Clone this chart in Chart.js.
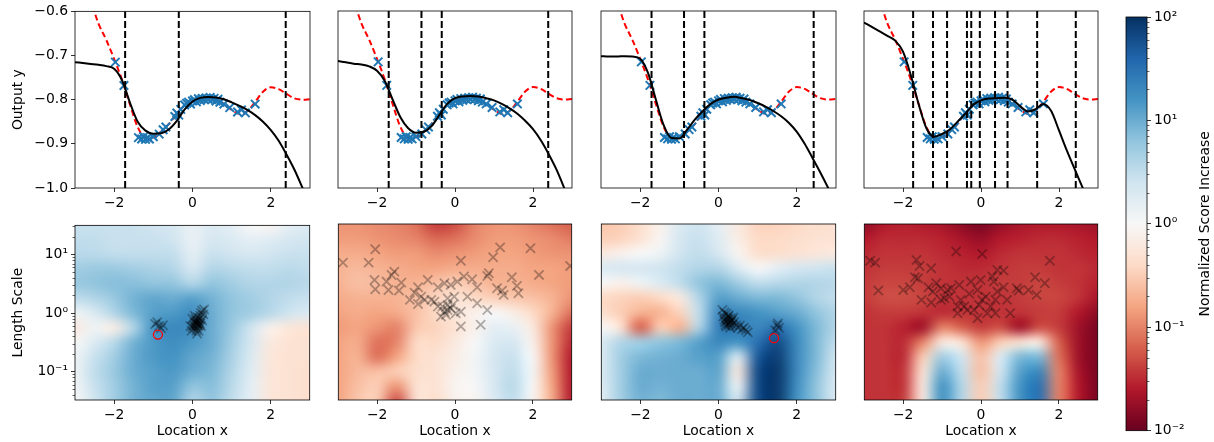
<!DOCTYPE html>
<html>
<head>
<meta charset="utf-8">
<script src="https://cdn.jsdelivr.net/npm/chart.js@4.4.0/dist/chart.umd.min.js"></script>
<style>
  html, body { margin: 0; padding: 0; background: #fff; }
  #fig { position: relative; width: 1214px; height: 442px; overflow: hidden; background: #fff; }
  #fig canvas { position: absolute; }
</style>
</head>
<body>
<div id="fig"></div>
<script>
// ============================================================
// DATA
// ============================================================
const xTicks = [-2, 0, 2];
const yTicksTop = [-1.0, -0.9, -0.8, -0.7, -0.6];
const yLimTop = [-1.0, -0.6];
const lsTicks = [0.1, 1, 10];
const lsLim = [0.033, 31.3];
const cbTicks = [0.01, 0.1, 1, 10, 100];

// x grid for the curves
const gridX = [-3.0, -2.8, -2.6, -2.4, -2.2, -2.0, -1.8, -1.6, -1.4, -1.2, -1.0, -0.8, -0.6, -0.4, -0.2,
  0.0, 0.2, 0.4, 0.6, 0.8, 1.0, 1.2, 1.4, 1.6, 1.8, 2.0, 2.2, 2.4, 2.6, 2.8, 3.0];
// true function (red dashed)
const trueY = [-0.49, -0.53, -0.575, -0.628, -0.665, -0.708, -0.755, -0.81, -0.862, -0.886, -0.885, -0.872, -0.855, -0.831, -0.812,
  -0.803, -0.799, -0.797, -0.800, -0.810, -0.823, -0.832, -0.826, -0.805, -0.782, -0.772, -0.776, -0.787, -0.797, -0.800, -0.799];
// model mean (black), one per panel
const mean1 = [-0.715, -0.717, -0.719, -0.721, -0.724, -0.730, -0.756, -0.806, -0.850, -0.870, -0.877, -0.876, -0.867, -0.848, -0.822,
  -0.804, -0.796, -0.794, -0.795, -0.799, -0.806, -0.814, -0.823, -0.835, -0.850, -0.869, -0.893, -0.924, -0.958, -0.998, -1.04];
const mean2 = [-0.713, -0.716, -0.719, -0.721, -0.725, -0.735, -0.758, -0.800, -0.840, -0.865, -0.875, -0.873, -0.860, -0.835, -0.810,
  -0.797, -0.793, -0.792, -0.793, -0.797, -0.802, -0.810, -0.820, -0.832, -0.848, -0.867, -0.892, -0.923, -0.958, -1.0, -1.045];
const mean3 = [-0.702, -0.703, -0.703, -0.702, -0.703, -0.708, -0.740, -0.800, -0.858, -0.887, -0.888, -0.868, -0.845, -0.826, -0.810,
  -0.800, -0.796, -0.794, -0.797, -0.801, -0.808, -0.816, -0.826, -0.838, -0.853, -0.873, -0.900, -0.932, -0.965, -1.0, -1.04];
const mean4 = [-0.626, -0.636, -0.646, -0.656, -0.667, -0.692, -0.745, -0.810, -0.865, -0.884, -0.878, -0.868, -0.850, -0.832, -0.812,
  -0.802, -0.798, -0.797, -0.796, -0.800, -0.815, -0.827, -0.822, -0.810, -0.826, -0.870, -0.915, -0.957, -0.998, -1.04, -1.08];

// observations (blue x)
const obsX = [-1.97, -1.75, -1.38, -1.3, -1.25, -1.2, -1.15, -1.1, -1.0, -0.85, -0.75, -0.68, -0.45, -0.4, -0.35, -0.3, -0.2, -0.15,
  -0.1, -0.05, 0, 0.05, 0.1, 0.15, 0.2, 0.25, 0.3, 0.35, 0.4, 0.45, 0.5, 0.55, 0.6, 0.65, 0.7, 0.8, 0.95, 1.15, 1.25, 1.35, 1.6];
const obsY = [-0.715, -0.768, -0.886, -0.889, -0.884, -0.89, -0.886, -0.889, -0.884, -0.878, -0.868, -0.862, -0.838, -0.83, -0.835,
  -0.822, -0.812, -0.808, -0.806, -0.81, -0.803, -0.8, -0.805, -0.798, -0.802, -0.797, -0.8, -0.796, -0.799, -0.795, -0.8, -0.797,
  -0.803, -0.799, -0.806, -0.81, -0.818, -0.828, -0.823, -0.83, -0.81];

// vertical dashed lines
const vlines1 = [-1.72, -0.35, 2.38];
const vlines2 = [-1.70, -0.86, -0.34, 2.39];
const vlines3 = [-1.71, -0.88, -0.36, 2.43];
const vlines4 = [-1.74, -1.23, -0.87, -0.36, -0.25, -0.03, 0.36, 0.68, 1.44, 2.43];

// heatmaps: log10(normalized score increase), rows top -> bottom
const heatCols = [-3, -2.5, -2, -1.5, -1, -0.5, 0, 0.5, 1, 1.5, 2, 2.5, 3];
const heatRows = [1.5, 1.25, 1.0, 0.75, 0.5, 0.25, 0, -0.25, -0.5, -0.75, -1.0, -1.25, -1.5];
const heat1 = [
  [0.45, 0.45, 0.45, 0.45, 0.4, 0.35, 0.15, 0.3, 0.2, 0.0, -0.05, 0.2, 0.3],
  [0.5, 0.5, 0.45, 0.45, 0.45, 0.4, 0.15, 0.35, 0.3, 0.2, 0.25, 0.35, 0.4],
  [0.55, 0.55, 0.5, 0.5, 0.5, 0.5, 0.2, 0.45, 0.4, 0.35, 0.4, 0.45, 0.45],
  [0.7, 0.75, 0.75, 0.7, 0.65, 0.6, 0.35, 0.6, 0.55, 0.5, 0.5, 0.55, 0.5],
  [0.75, 0.8, 0.85, 0.85, 0.8, 0.8, 0.6, 0.8, 0.7, 0.6, 0.6, 0.6, 0.55],
  [0.5, 0.6, 0.75, 0.95, 1.05, 1.0, 1.1, 0.95, 0.8, 0.7, 0.6, 0.5, 0.45],
  [0.1, 0.3, 0.6, 0.9, 1.1, 1.15, 1.25, 1.0, 0.8, 0.7, 0.55, 0.4, 0.3],
  [-0.2, 0.1, -0.15, 0.6, 1.2, 1.3, 1.25, 1.0, 0.75, 0.4, -0.1, -0.25, -0.3],
  [0.0, 0.3, 0.55, 0.95, 1.15, 1.25, 1.15, 1.0, 0.7, 0.35, -0.2, -0.3, -0.3],
  [0.1, 0.45, 0.7, 1.0, 1.15, 1.2, 1.05, 0.95, 0.65, 0.3, -0.25, -0.3, -0.3],
  [0.1, 0.5, 0.75, 1.0, 1.1, 1.15, 1.0, 0.9, 0.6, 0.25, -0.25, -0.3, -0.35],
  [0.05, 0.45, 0.7, 0.95, 1.1, 1.1, 0.8, 0.85, 0.55, 0.2, -0.25, -0.3, -0.35],
  [0.0, 0.4, 0.7, 0.95, 1.05, 1.05, 0.6, 0.8, 0.5, 0.2, -0.25, -0.3, -0.35]
];
const heat2 = [
  [-0.9, -0.9, -0.95, -1.0, -1.1, -1.4, -1.3, -1.0, -0.9, -0.9, -1.0, -1.1, -1.2],
  [-0.85, -0.85, -0.9, -0.95, -1.0, -1.15, -1.1, -0.95, -0.85, -0.85, -0.9, -0.95, -1.05],
  [-0.75, -0.75, -0.8, -0.85, -0.85, -0.95, -0.9, -0.85, -0.8, -0.8, -0.85, -0.9, -0.9],
  [-0.7, -0.65, -0.7, -0.75, -0.8, -0.8, -0.75, -0.75, -0.75, -0.75, -0.8, -0.8, -0.85],
  [-0.7, -0.6, -0.65, -0.7, -0.7, -0.6, -0.5, -0.6, -0.7, -0.7, -0.75, -0.8, -0.85],
  [-0.75, -0.7, -0.7, -0.7, -0.6, -0.45, -0.3, -0.4, -0.5, -0.55, -0.6, -0.7, -0.9],
  [-0.8, -0.75, -0.8, -0.75, -0.6, -0.4, -0.25, -0.1, 0.0, -0.15, -0.4, -0.7, -1.1],
  [-0.85, -0.8, -0.9, -1.0, -0.55, -0.45, -0.3, -0.1, 0.2, 0.15, -0.2, -0.9, -1.4],
  [-0.8, -0.75, -1.1, -1.0, -0.4, -0.4, -0.2, 0.0, 0.3, 0.35, -0.1, -0.9, -1.5],
  [-0.8, -0.7, -1.1, -0.8, -0.4, -0.3, -0.15, 0.05, 0.35, 0.45, 0.0, -0.9, -1.6],
  [-0.8, -0.65, -0.6, -0.5, -0.35, -0.3, -0.1, 0.05, 0.35, 0.5, 0.05, -0.85, -1.6],
  [-0.8, -0.6, -0.5, -0.9, -0.3, -0.3, -0.05, 0.0, 0.35, 0.55, 0.0, -0.8, -1.6],
  [-0.8, -0.55, -0.5, -1.3, -0.3, -0.35, -0.1, -0.05, 0.3, 0.5, -0.05, -0.75, -1.6]
];
const heat3 = [
  [-0.55, -0.5, -0.35, -0.1, 0.3, 0.4, 0.2, -0.2, -0.45, -0.45, -0.4, -0.35, -0.3],
  [-0.5, -0.45, -0.3, -0.05, 0.35, 0.45, 0.25, -0.15, -0.4, -0.4, -0.35, -0.3, -0.3],
  [-0.2, -0.1, 0.0, 0.1, 0.4, 0.5, 0.35, -0.05, -0.35, -0.35, -0.3, -0.25, -0.2],
  [0.3, 0.35, 0.35, 0.4, 0.5, 0.6, 0.6, 0.3, 0.0, 0.2, 0.35, 0.4, 0.45],
  [0.0, -0.1, 0.1, 0.3, 0.5, 0.8, 0.9, 0.7, 0.5, 0.55, 0.6, 0.6, 0.55],
  [-0.4, -0.45, -0.5, -0.4, -0.2, 0.6, 1.1, 1.0, 0.9, 0.9, 0.8, 0.6, 0.5],
  [-0.35, -0.5, -0.7, -0.7, -0.45, 0.5, 1.3, 1.3, 1.2, 1.1, 1.0, 0.8, 0.6],
  [0.0, -0.3, -1.2, -0.5, -0.7, 0.6, 1.4, 1.4, 1.3, 1.5, 1.2, 0.9, 0.6],
  [0.3, 0.6, 0.7, 0.8, 0.9, 1.1, 1.3, 1.2, 1.5, 1.8, 1.3, 0.9, 0.5],
  [0.3, 0.7, 0.9, 0.95, 1.0, 1.1, 1.1, 0.3, 1.7, 1.9, 1.3, 0.9, 0.4],
  [0.3, 0.7, 1.0, 1.0, 1.0, 1.0, 1.05, -0.2, 1.8, 1.95, 1.3, 0.85, 0.35],
  [0.25, 0.7, 1.0, 0.95, 1.0, 1.0, 1.0, 0.1, 1.8, 1.95, 1.25, 0.8, 0.3],
  [0.2, 0.7, 0.95, 0.9, 1.0, 1.0, 1.0, 0.4, 1.8, 1.95, 1.2, 0.8, 0.3]
];
const heat4 = [
  [-1.8, -1.6, -1.55, -1.6, -1.65, -1.8, -1.9, -1.75, -1.65, -1.6, -1.6, -1.65, -1.7],
  [-1.6, -1.5, -1.5, -1.5, -1.55, -1.65, -1.75, -1.6, -1.55, -1.5, -1.5, -1.55, -1.6],
  [-1.5, -1.45, -1.45, -1.45, -1.5, -1.55, -1.6, -1.5, -1.45, -1.45, -1.45, -1.5, -1.55],
  [-1.45, -1.4, -1.4, -1.4, -1.45, -1.5, -1.5, -1.45, -1.4, -1.4, -1.45, -1.45, -1.5],
  [-1.4, -1.35, -1.35, -1.4, -1.45, -1.45, -1.45, -1.4, -1.4, -1.35, -1.4, -1.45, -1.55],
  [-1.4, -1.3, -1.3, -1.35, -1.45, -1.45, -1.45, -1.45, -1.4, -1.35, -1.35, -1.45, -1.65],
  [-1.45, -1.4, -1.4, -1.45, -1.5, -1.45, -1.45, -1.45, -1.45, -1.4, -1.4, -1.6, -1.8],
  [-1.45, -1.45, -1.55, -1.7, -1.0, -1.2, -1.4, -1.3, -1.7, -1.3, -1.4, -1.7, -1.9],
  [-1.45, -1.45, -1.5, -1.0, -0.2, -0.3, -0.9, -0.5, -0.3, -0.2, -1.2, -1.7, -1.9],
  [-1.45, -1.45, -1.5, -0.5, 0.7, 0.4, -0.6, 0.3, 0.9, 0.9, -1.1, -1.7, -1.9],
  [-1.45, -1.45, -1.45, -0.3, 1.0, 0.5, -0.6, 0.4, 1.1, 1.3, -1.0, -1.65, -1.9],
  [-1.45, -1.45, -1.45, -0.2, 1.2, 0.6, -0.5, 0.5, 1.2, 1.5, -1.0, -1.6, -1.9],
  [-1.45, -1.45, -1.4, -0.2, 1.2, 0.6, -0.5, 0.5, 1.2, 1.5, -1.0, -1.6, -1.9]
];

// hyperparameter samples (black x) per panel: location x, length scale
const pts1X = [0.05, 0.08, 0.1, 0.12, 0.15, 0.18, 0.2, 0.22, 0.25, 0.1, 0.05, 0.15, 0.12, 0.2, 0.08, 0.18, 0.1, 0.03, 0.22, 0.14,
  0.06, 0.16, 0.25, 0.28, 0.3, 0.0, 0.12, 0.09, 0.17, 0.13, -0.05, 0.0, -0.02, -0.95, -0.85, -0.9, -0.8, -0.75];
const pts1Y = [0.55, 0.6, 0.65, 0.7, 0.75, 0.8, 0.9, 1.0, 1.1, 0.5, 0.7, 0.6, 0.55, 0.65, 0.8, 0.7, 0.75, 0.62, 0.6, 0.85,
  0.9, 0.5, 0.75, 0.95, 1.15, 0.58, 0.45, 0.68, 0.62, 0.66, 0.6, 0.8, 0.5, 0.65, 0.6, 0.7, 0.55, 0.62];
const pts2X = [-2.05, -2.88, -2.22, 1.94, 1.16, 0.15, 0.98, 2.96, -1.56, -1.63, -2.07, -1.76, -1.38, -2.05, -1.71, -1.44, -0.95,
  -0.70, -1.04, -0.87, -0.95, -0.61, -0.44, -0.27, -0.11, 0.06, 0.23, 0.44, 0.57, 0.83, 0.87, 1.08, 1.21, 1.25, 1.46, 1.59, 1.63,
  2.16, 0.32, 0.57, 0.83, 0.15, 0.66, -0.36, -0.19, -0.06, 0.02, 0.15, -0.44, -0.53, -0.78, -1.16, -0.19, -0.02, -0.23, -0.11,
  -0.32, -0.19, -0.27];
const pts2Y = [11.7, 6.95, 6.95, 12.2, 12.6, 7.5, 8.55, 6.1, 4.9, 4.3, 3.54, 3.32, 3.19, 2.46, 2.4, 2.34, 2.66,
  3.54, 2.16, 1.85, 1.39, 1.63, 2.66, 3.11, 2.92, 3.32, 4.04, 3.64, 2.66, 4.14, 4.59, 2.56, 2.34, 1.98, 3.93, 2.81, 2.11,
  4.31, 1.85, 1.43, 1.1, 0.58, 0.62, 0.85, 1.1, 1.34, 0.97, 1.03, 1.26, 1.52, 1.63, 1.63, 1.73, 1.85, 0.91, 1.17,
  1.26, 1.34, 1.03];
const pts3X = [0.1, 0.15, 0.2, 0.25, 0.3, 0.35, 0.2, 0.25, 0.3, 0.15, 0.22, 0.28, 0.35, 0.4, 0.18, 0.3, 0.45, 0.12, 0.26, 0.33,
  0.2, 0.38, 0.24, 0.29, 0.16, 0.5, 0.6, 0.7, 0.75, 0.55, 0.65, 1.5, 1.55, 1.45, 1.52];
const pts3Y = [1.1, 1.0, 0.95, 0.85, 0.8, 0.75, 0.7, 0.65, 0.7, 0.75, 0.8, 0.6, 0.62, 0.68, 0.62, 0.55, 0.6, 0.85, 0.9, 0.72,
  0.58, 0.82, 0.76, 0.66, 0.68, 0.55, 0.52, 0.5, 0.46, 0.6, 0.55, 0.6, 0.55, 0.5, 0.65];
const pts4X = [-2.85, -2.72, -0.64, 0.03, 1.77, -1.66, -1.58, -1.28, -2.64, -2.0, -1.83, -1.70, -1.62, -1.35, -1.15, -1.24, -1.03,
  -0.86, -0.81, -0.94, -1.28, -1.53, -0.56, -0.26, -0.09, -0.30, -0.52, -0.60, -0.43, -0.60, -0.35, -0.09, -0.18, 0.03, 0.12, 0.25,
  0.37, 0.42, 0.33, 0.42, 0.58, 0.29, 0.58, 0.67, 0.75, 0.37, 0.16, 0.92, 0.97, 1.22, 1.39, 1.64, 1.43, -0.01, -0.77, -1.03, -0.05];
const pts4Y = [7.5, 6.95, 10.7, 9.75, 7.5, 7.7, 6.1, 5.57, 2.34, 2.4, 2.66, 3.93, 3.77, 2.66, 3.11, 2.25, 2.56,
  2.4, 1.85, 1.73, 1.47, 1.63, 2.92, 3.32, 2.4, 2.06, 1.63, 1.26, 1.26, 0.97, 1.1, 0.8, 1.1, 1.63, 1.85, 1.26,
  1.63, 2.25, 3.32, 5.22, 5.09, 4.04, 2.66, 1.63, 0.97, 0.97, 0.97, 2.56, 2.34, 2.4, 3.93, 3.11, 1.98, 3.54, 2.56, 1.63, 1.34];
// selected point (red circle)
const pick1X = [-0.88], pick1Y = [0.43];
const pick3X = [1.42], pick3Y = [0.366];

// ============================================================
// LAYOUT (pixels)
// ============================================================
const colLeft = [75, 336, 599, 862];
const colRight = [310, 572, 836, 1098];
const FONT = 'DejaVu Sans';
const FS = 13.9;

Chart.defaults.font.family = FONT;
Chart.defaults.font.size = FS;
Chart.defaults.color = '#000';
Chart.defaults.animation = false;
Chart.defaults.plugins.legend.display = false;
Chart.defaults.plugins.tooltip.enabled = false;

// ============================================================
// HELPERS
// ============================================================
const RDBU = ['#67001f', '#b2182b', '#d6604d', '#f4a582', '#fddbc7', '#f7f7f7',
  '#d1e5f0', '#92c5de', '#4393c3', '#2166ac', '#053061'];
const RDBU_RGB = RDBU.map(h => [1, 3, 5].map(i => parseInt(h.substr(i, 2), 16)));

function rdbu(logv) {
  let t = (logv + 2) / 4;
  t = Math.max(0, Math.min(1, t)) * 10;
  const i = Math.min(9, Math.floor(t));
  const f = t - i;
  const a = RDBU_RGB[i], b = RDBU_RGB[i + 1];
  return a.map((c, k) => Math.round(c + (b[k] - c) * f));
}

const SUP = { '-2': '\u207B\u00B2', '-1': '\u207B\u00B9', '0': '\u2070', '1': '\u00B9', '2': '\u00B2' };
const logLabel = v => '10' + SUP[Math.round(Math.log10(v))];
const minus = s => String(s).replace('-', '\u2212');

function minorValues(lo, hi) {
  const out = [];
  for (let e = -3; e <= 2; e++) {
    for (let m = 2; m <= 9; m++) {
      const v = m * Math.pow(10, e);
      if (v >= lo && v <= hi) out.push(v);
    }
  }
  return out;
}

function novoCanvas(left, top, w, h) {
  const c = document.createElement('canvas');
  c.width = w; c.height = h;
  c.style.left = left + 'px'; c.style.top = top + 'px';
  c.style.width = w + 'px'; c.style.height = h + 'px';
  document.getElementById('fig').appendChild(c);
  return c;
}

// ============================================================
// PLUGINS
// ============================================================
const framePlugin = {
  id: 'frame',
  afterDatasetsDraw(chart) {
    const { ctx, chartArea: a } = chart;
    ctx.save();
    ctx.strokeStyle = '#000';
    ctx.lineWidth = 0.8;
    ctx.strokeRect(a.left, a.top, a.right - a.left, a.bottom - a.top);
    ctx.restore();
  }
};

const heatmapPlugin = {
  id: 'heatmap',
  beforeDatasetsDraw(chart, args, opts) {
    if (!opts.grid) return;
    const { ctx, chartArea: a, scales: { x, y } } = chart;
    const grid = opts.grid, rows = grid.length, cols = grid[0].length;
    const off = document.createElement('canvas');
    off.width = cols; off.height = rows;
    const octx = off.getContext('2d');
    const img = octx.createImageData(cols, rows);
    for (let r = 0; r < rows; r++) {
      for (let c = 0; c < cols; c++) {
        const rgb = rdbu(grid[r][c]);
        const p = (r * cols + c) * 4;
        img.data[p] = rgb[0]; img.data[p + 1] = rgb[1]; img.data[p + 2] = rgb[2]; img.data[p + 3] = 255;
      }
    }
    octx.putImageData(img, 0, 0);
    const dx = heatCols[1] - heatCols[0];
    const dr = heatRows[0] - heatRows[1];
    const left = x.getPixelForValue(heatCols[0] - dx / 2);
    const right = x.getPixelForValue(heatCols[cols - 1] + dx / 2);
    const top = y.getPixelForValue(Math.pow(10, heatRows[0] + dr / 2));
    const bottom = y.getPixelForValue(Math.pow(10, heatRows[rows - 1] - dr / 2));
    ctx.save();
    ctx.beginPath();
    ctx.rect(a.left, a.top, a.right - a.left, a.bottom - a.top);
    ctx.clip();
    ctx.imageSmoothingEnabled = true;
    ctx.imageSmoothingQuality = 'high';
    ctx.drawImage(off, left, top, right - left, bottom - top);
    ctx.restore();
  }
};

const minorTickPlugin = {
  id: 'minorTicks',
  afterDraw(chart, args, opts) {
    if (!opts.values) return;
    const { ctx, chartArea: a } = chart;
    const s = chart.scales.y;
    ctx.save();
    ctx.strokeStyle = '#000';
    ctx.lineWidth = 0.6;
    opts.values.forEach(v => {
      const p = Math.round(s.getPixelForValue(v)) + 0.5;
      ctx.beginPath();
      if (opts.side === 'right') { ctx.moveTo(a.right, p); ctx.lineTo(a.right + 2.5, p); }
      else { ctx.moveTo(a.left - 2.5, p); ctx.lineTo(a.left, p); }
      ctx.stroke();
    });
    ctx.restore();
  }
};

const colorbarPlugin = {
  id: 'colorbar',
  beforeDatasetsDraw(chart, args, opts) {
    if (!opts.on) return;
    const { ctx, chartArea: a, scales: { y } } = chart;
    const yb = y.getPixelForValue(cbTicks[0]);
    const yt = y.getPixelForValue(cbTicks[cbTicks.length - 1]);
    const g = ctx.createLinearGradient(0, yb, 0, yt);
    RDBU.forEach((c, i) => g.addColorStop(i / (RDBU.length - 1), c));
    ctx.save();
    ctx.fillStyle = g;
    ctx.fillRect(a.left, yt, a.right - a.left, yb - yt);
    ctx.restore();
  },
  afterDraw(chart, args, opts) {
    if (!opts.on) return;
    const { ctx, chartArea: a } = chart;
    ctx.save();
    ctx.translate(a.right + 58, (a.top + a.bottom) / 2);
    ctx.rotate(-Math.PI / 2);
    ctx.font = FS + 'px "' + FONT + '"';
    ctx.fillStyle = '#000';
    ctx.textAlign = 'center';
    ctx.textBaseline = 'middle';
    ctx.fillText(opts.label, 0, 0);
    ctx.restore();
  }
};

Chart.register(framePlugin, heatmapPlugin, minorTickPlugin, colorbarPlugin);

const tickGrid = show => ({
  drawOnChartArea: false, drawTicks: show, tickLength: 4, tickColor: '#000', tickWidth: 0.8
});

// ============================================================
// TOP ROW: model fits
// ============================================================
function painelSuperior(col, meanY, vlines) {
  const L = colLeft[col], R = colRight[col];
  const axW = col === 0 ? 75 : 6;
  const canvas = novoCanvas(L - axW, 0, (R - L) + axW + 8, 215);
  const vds = vlines.map(v => ({
    data: [{ x: v, y: yLimTop[0] }, { x: v, y: yLimTop[1] }],
    showLine: true, borderColor: '#000', borderWidth: 2, borderDash: [7, 3],
    pointRadius: 0, clip: 0, order: 0
  }));
  new Chart(canvas, {
    type: 'scatter',
    data: {
      datasets: [
        ...vds,
        {
          data: gridX.map((x, i) => ({ x, y: meanY[i] })),
          showLine: true, borderColor: '#000', borderWidth: 2, pointRadius: 0,
          cubicInterpolationMode: 'monotone', clip: 0, order: 1
        },
        {
          data: obsX.map((x, i) => ({ x, y: obsY[i] })),
          pointStyle: 'crossRot', pointRadius: 6, borderColor: '#1f77b4', backgroundColor: '#1f77b4',
          borderWidth: 2, clip: 0, order: 2
        },
        {
          data: gridX.map((x, i) => ({ x, y: trueY[i] })),
          showLine: true, borderColor: '#ff0000', borderWidth: 2, borderDash: [6, 3.3], pointRadius: 0,
          cubicInterpolationMode: 'monotone', clip: 0, order: 3
        }
      ]
    },
    options: {
      responsive: false,
      devicePixelRatio: 1,
      layout: { padding: { left: 0, top: 11, right: 8, bottom: 0 } },
      scales: {
        x: {
          type: 'linear', min: -3, max: 3,
          afterBuildTicks: s => { s.ticks = xTicks.map(v => ({ value: v })); },
          afterFit: s => { s.height = 27; },
          ticks: { callback: v => minus(v), maxRotation: 0, autoSkip: false, padding: 3 },
          grid: tickGrid(true),
          border: { display: false }
        },
        y: {
          type: 'linear', min: yLimTop[0], max: yLimTop[1],
          afterBuildTicks: s => { s.ticks = yTicksTop.map(v => ({ value: v })); },
          afterFit: s => { s.width = axW; },
          ticks: { display: col === 0, callback: v => minus(v.toFixed(1)), padding: 3 },
          grid: tickGrid(col === 0),
          border: { display: false },
          title: { display: col === 0, text: 'Output y', padding: { top: 10, bottom: 0 } }
        }
      }
    }
  });
}

// ============================================================
// BOTTOM ROW: score heatmaps
// ============================================================
function painelInferior(col, heat, px, py, pickX, pickY) {
  const L = colLeft[col], R = colRight[col];
  const axW = col === 0 ? 75 : 6;
  const canvas = novoCanvas(L - axW, 214, (R - L) + axW + 8, 228);
  const datasets = [{
    data: px.map((x, i) => ({ x, y: py[i] })),
    pointStyle: 'crossRot', pointRadius: 6.5, borderColor: 'rgba(0,0,0,0.3)', backgroundColor: 'rgba(0,0,0,0.3)',
    borderWidth: 1.8, clip: 0, order: 1
  }];
  if (pickX) {
    datasets.push({
      data: pickX.map((x, i) => ({ x, y: pickY[i] })),
      pointStyle: 'circle', pointRadius: 4.5, borderColor: '#ff0000', backgroundColor: 'rgba(0,0,0,0)',
      borderWidth: 1.3, clip: 0, order: 0
    });
  }
  new Chart(canvas, {
    type: 'scatter',
    data: { datasets },
    options: {
      responsive: false,
      devicePixelRatio: 1,
      layout: { padding: { left: 0, top: 10, right: 8, bottom: 0 } },
      plugins: {
        heatmap: { grid: heat },
        minorTicks: col === 0 ? { values: minorValues(lsLim[0], lsLim[1]), side: 'left' } : {}
      },
      scales: {
        x: {
          type: 'linear', min: -3, max: 3,
          afterBuildTicks: s => { s.ticks = xTicks.map(v => ({ value: v })); },
          afterFit: s => { s.height = 42; },
          ticks: { callback: v => minus(v), maxRotation: 0, autoSkip: false, padding: 3 },
          grid: tickGrid(true),
          border: { display: false },
          title: { display: true, text: 'Location x', padding: { top: 0, bottom: 2 } }
        },
        y: {
          type: 'logarithmic', min: lsLim[0], max: lsLim[1],
          afterBuildTicks: s => { s.ticks = lsTicks.map(v => ({ value: v })); },
          afterFit: s => { s.width = axW; },
          ticks: { display: col === 0, callback: v => logLabel(v), padding: 3 },
          grid: tickGrid(col === 0),
          border: { display: false },
          title: { display: col === 0, text: 'Length Scale', padding: { top: 10, bottom: 0 } }
        }
      }
    }
  });
}

// ============================================================
// COLORBAR
// ============================================================
function barraDeCores() {
  const canvas = novoCanvas(1100, 0, 114, 442);
  new Chart(canvas, {
    type: 'scatter',
    data: { datasets: [] },
    options: {
      responsive: false,
      devicePixelRatio: 1,
      layout: { padding: { left: 26, top: 17, right: 0, bottom: 10 } },
      plugins: {
        colorbar: { on: true, label: 'Normalized Score Increase' },
        minorTicks: { values: minorValues(cbTicks[0], cbTicks[cbTicks.length - 1]), side: 'right' }
      },
      scales: {
        x: { display: false, min: 0, max: 1 },
        y: {
          type: 'logarithmic', position: 'right', min: cbTicks[0], max: cbTicks[cbTicks.length - 1],
          afterBuildTicks: s => { s.ticks = cbTicks.map(v => ({ value: v })); },
          afterFit: s => { s.width = 67; },
          ticks: { callback: v => logLabel(v), padding: 3 },
          grid: tickGrid(true),
          border: { display: false }
        }
      }
    }
  });
}

// ============================================================
// INIT
// ============================================================
painelSuperior(0, mean1, vlines1);
painelSuperior(1, mean2, vlines2);
painelSuperior(2, mean3, vlines3);
painelSuperior(3, mean4, vlines4);
painelInferior(0, heat1, pts1X, pts1Y, pick1X, pick1Y);
painelInferior(1, heat2, pts2X, pts2Y, null, null);
painelInferior(2, heat3, pts3X, pts3Y, pick3X, pick3Y);
painelInferior(3, heat4, pts4X, pts4Y, null, null);
barraDeCores();
</script>
</body>
</html>
